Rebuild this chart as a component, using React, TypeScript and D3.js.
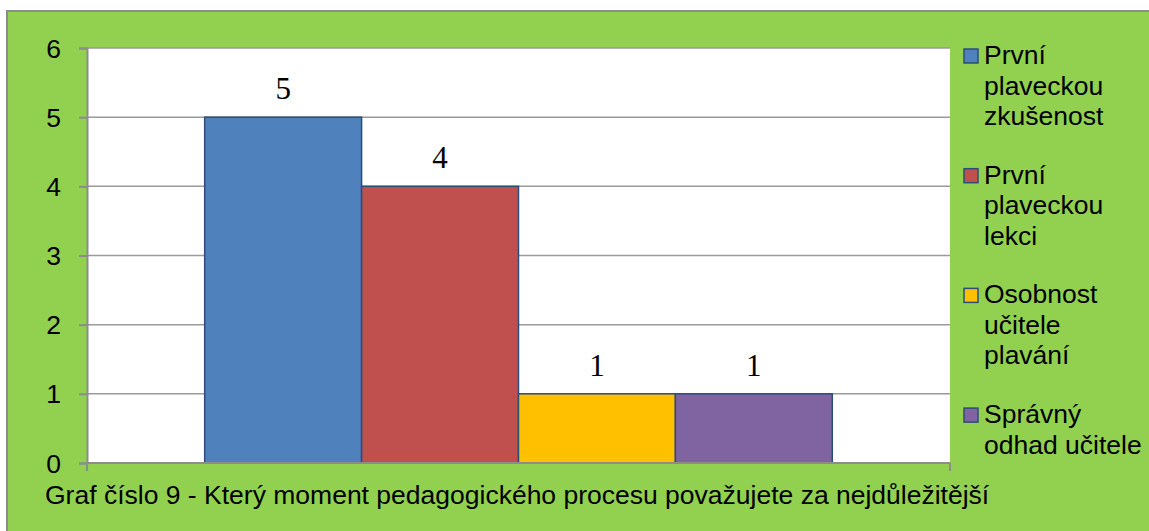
import React, { useEffect, useRef } from 'react';
import * as d3 from 'd3';

// chart data
const categories = ['První plaveckou zkušenost', 'První plaveckou lekci', 'Osobnost učitele plavání', 'Správný odhad učitele'];
const values = [5, 4, 1, 1];
const legendLines = [
    ['První', 'plaveckou', 'zkušenost'],
    ['První', 'plaveckou', 'lekci'],
    ['Osobnost', 'učitele', 'plavání'],
    ['Správný', 'odhad učitele'],
];
const colors = ['#4F81BD', '#C0504D', '#FFC000', '#8064A2'];
const yTicks = [0, 1, 2, 3, 4, 5, 6];
const title = 'Graf číslo 9 - Který moment pedagogického procesu považujete za nejdůležitější';

const W = 1149;
const H = 531;
const plot = { left: 87, right: 950, top: 48, bottom: 463 };
const sans = '"Liberation Sans", Arial, sans-serif';
const serif = '"Liberation Serif", "Times New Roman", serif';
const sansSize = '26.5px';

const App = () => {
    const ref = useRef(null);

    useEffect(() => {
        const svg = d3.select(ref.current);
        svg.selectAll('*').remove();

        // green chart area with its grey frame
        svg.append('rect')
            .attr('x', 7).attr('y', 11)
            .attr('width', W).attr('height', H)
            .attr('fill', '#92D050')
            .attr('stroke', '#8c8c8c')
            .attr('stroke-width', 2);

        svg.append('rect')
            .attr('x', plot.left).attr('y', plot.top)
            .attr('width', plot.right - plot.left)
            .attr('height', plot.bottom - plot.top)
            .attr('fill', '#ffffff');

        var y = d3.scaleLinear().domain([0, 6]).range([plot.bottom, plot.top]);

        // excel style: gap width 150% of a bar on each side
        var plotW = plot.right - plot.left;
        var barW = plotW / (categories.length + 1.5);
        var x = d3.scaleBand()
            .domain(categories)
            .range([plot.left + barW * 0.75, plot.right - barW * 0.75])
            .padding(0);

        // gridlines
        svg.append('g')
            .selectAll('line')
            .data(yTicks.filter(d => d > 0))
            .enter()
            .append('line')
            .attr('x1', plot.left).attr('x2', plot.right)
            .attr('y1', d => y(d)).attr('y2', d => y(d))
            .attr('stroke', '#9a9a9a')
            .attr('stroke-width', 1.5);

        // bars
        svg.append('g')
            .selectAll('rect')
            .data(values)
            .enter()
            .append('rect')
            .attr('x', (d, i) => x(categories[i]))
            .attr('y', d => y(d))
            .attr('width', x.bandwidth())
            .attr('height', d => y(0) - y(d))
            .attr('fill', (d, i) => colors[i])
            .attr('stroke', '#2C4D75')
            .attr('stroke-width', 1.5);

        // value labels
        svg.append('g')
            .selectAll('text')
            .data(values)
            .enter()
            .append('text')
            .attr('x', (d, i) => x(categories[i]) + x.bandwidth() / 2)
            .attr('y', d => y(d) - 18)
            .attr('text-anchor', 'middle')
            .style('font-family', serif)
            .style('font-size', '31px')
            .attr('fill', '#000')
            .text(d => d);

        // y axis
        var yAxis = d3.axisLeft(y).tickValues(yTicks).tickSize(8).tickPadding(18).tickFormat(d3.format('d'));
        var ya = svg.append('g')
            .attr('transform', `translate(${plot.left},0)`)
            .call(yAxis);
        ya.select('.domain').attr('stroke', '#8c8c8c').attr('stroke-width', 2);
        ya.selectAll('.tick line').attr('stroke', '#8c8c8c').attr('stroke-width', 2);
        ya.selectAll('.tick text')
            .style('font-family', sans)
            .style('font-size', sansSize)
            .attr('fill', '#000')
            .attr('dy', '0.34em');

        // x axis line with the end ticks
        var xa = svg.append('g');
        xa.append('line')
            .attr('x1', plot.left).attr('x2', plot.right)
            .attr('y1', y(0)).attr('y2', y(0))
            .attr('stroke', '#8c8c8c').attr('stroke-width', 2);
        xa.selectAll('.endtick')
            .data([plot.left, plot.right])
            .enter()
            .append('line')
            .attr('class', 'endtick')
            .attr('x1', d => d).attr('x2', d => d)
            .attr('y1', y(0)).attr('y2', y(0) + 8)
            .attr('stroke', '#8c8c8c').attr('stroke-width', 2);

        // legend
        var lg = svg.append('g').attr('transform', 'translate(964,0)');
        var item = lg.selectAll('g')
            .data(legendLines)
            .enter()
            .append('g')
            .attr('transform', (d, i) => `translate(0,${64 + i * 119.7})`);
        item.append('rect')
            .attr('x', 0).attr('y', -15)
            .attr('width', 14).attr('height', 14)
            .attr('fill', (d, i) => colors[i])
            .attr('stroke', '#2C4D75')
            .attr('stroke-width', 1.5);
        item.each(function (lines) {
            var t = d3.select(this).append('text')
                .style('font-family', sans)
                .style('font-size', sansSize)
                .attr('fill', '#000');
            lines.forEach((l, j) => {
                t.append('tspan').attr('x', 20).attr('y', j * 30.5).text(l);
            });
        });

        // caption
        svg.append('text')
            .attr('x', 45).attr('y', 504)
            .style('font-family', sans)
            .style('font-size', sansSize)
            .attr('fill', '#000')
            .text(title);
    }, []);

    return (
        <div style={{ position: 'absolute', left: 0, top: 0 }}>
            <svg width={W} height={H} style={{ display: 'block', background: '#fff' }} ref={ref}></svg>
        </div>
    );
};

export default App;
